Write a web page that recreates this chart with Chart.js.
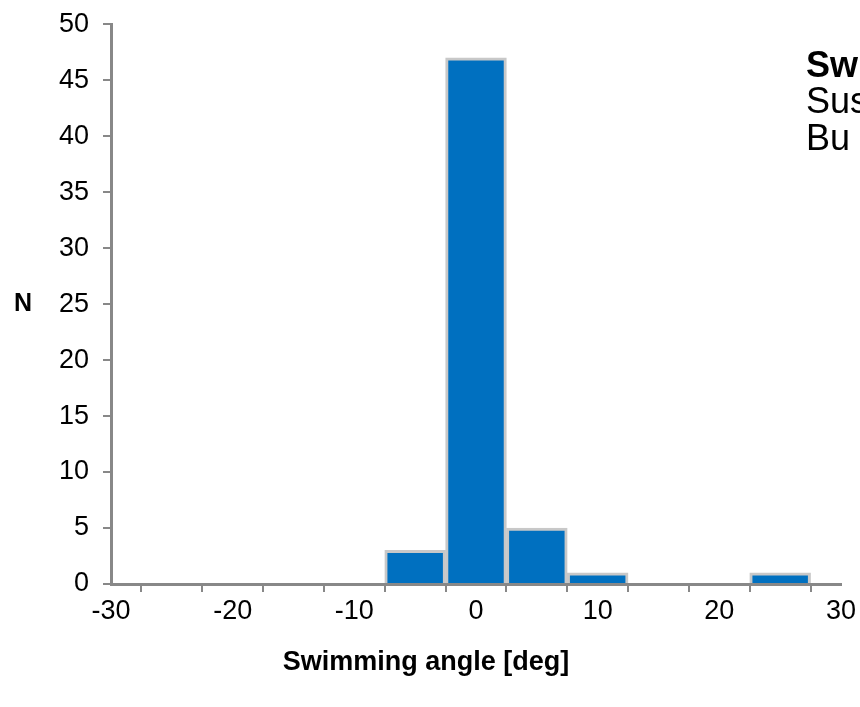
<!DOCTYPE html>
<html>
<head>
<meta charset="utf-8">
<script src="https://cdn.jsdelivr.net/npm/chart.js@4/dist/chart.umd.min.js"></script>
<style>
  html, body { margin:0; padding:0; background:#fff; overflow:hidden; }
  #wrap { position:relative; width:860px; height:707px; overflow:hidden; }
  canvas { position:absolute; left:0; top:-6px; }
  .side { position:absolute; left:806px; font-family:'Liberation Sans', Arial, sans-serif; font-size:36px; color:#000; white-space:nowrap; line-height:37px; }
</style>
</head>
<body>
<div id="wrap">
  <canvas id="c" width="860" height="713"></canvas>
  <div class="side" style="top:46px;font-weight:bold;">Sw</div>
  <div class="side" style="top:82px;">Sus</div>
  <div class="side" style="top:119px;">Bu</div>
</div>
<script>
// Histogram data
const binCenters = [-5, 0, 5, 10, 25];      // bin centres, deg (bin width 5)
const counts     = [3, 47, 5, 1, 1];        // N per bin
const xTickLabels = [-30, -20, -10, 0, 10, 20, 30];
const yTickLabels = [0, 5, 10, 15, 20, 25, 30, 35, 40, 45, 50];
const xTitle = 'Swimming angle [deg]';
const yTitle = 'N';

const FONT = "'Liberation Sans', Arial, sans-serif";

const textPlugin = {
  id: 'texts',
  afterDraw(chart) {
    const ctx = chart.ctx;
    const ca = chart.chartArea;
    ctx.save();
    ctx.fillStyle = '#000';
    ctx.textAlign = 'center';
    ctx.textBaseline = 'middle';
    ctx.font = 'bold 25px ' + FONT;
    ctx.fillText(yTitle, 23, (ca.top + ca.bottom) / 2);
    ctx.font = 'bold 27px ' + FONT;
    ctx.fillText(xTitle, 426, 669);
    ctx.restore();
  }
};

new Chart(document.getElementById('c'), {
  type: 'bar',
  data: {
    datasets: [{
      data: binCenters.map((x, i) => ({ x: x, y: counts[i] })),
      backgroundColor: '#0070C0',
      borderColor: '#C8C8C8',
      borderWidth: 3,
      barPercentage: 1,
      categoryPercentage: 1
    }]
  },
  options: {
    responsive: false,
    animation: false,
    events: [],
    layout: { padding: { top: 16, right: 19, left: 0, bottom: 0 } },
    plugins: { legend: { display: false }, tooltip: { enabled: false } },
    scales: {
      x: {
        type: 'linear',
        min: -30, max: 30,
        offset: false,
        afterFit(s) { s.height = 123; },
        afterBuildTicks(s) {
          const t = [];
          for (let v = -30; v <= 30; v += 5) t.push({ value: v });
          s.ticks = t;
        },
        ticks: {
          autoSkip: false,
          maxRotation: 0,
          padding: 3,
          color: '#000',
          font: { family: FONT, size: 27 },
          callback: (v) => xTickLabels.includes(v) ? String(v) : ''
        },
        grid: { drawOnChartArea: false, drawTicks: true, tickLength: 8, color: '#888', lineWidth: 2 },
        border: { display: true, color: '#888', width: 3 }
      },
      y: {
        min: 0, max: 50,
        afterFit(s) { s.width = 111; },
        afterBuildTicks(s) { s.ticks = yTickLabels.map(v => ({ value: v })); },
        ticks: {
          autoSkip: false,
          padding: 14,
          color: '#000',
          font: { family: FONT, size: 27 }
        },
        grid: { drawOnChartArea: false, drawTicks: true, tickLength: 8, color: '#888', lineWidth: 2 },
        border: { display: true, color: '#888', width: 3 }
      }
    }
  },
  plugins: [textPlugin]
});
</script>
</body>
</html>
